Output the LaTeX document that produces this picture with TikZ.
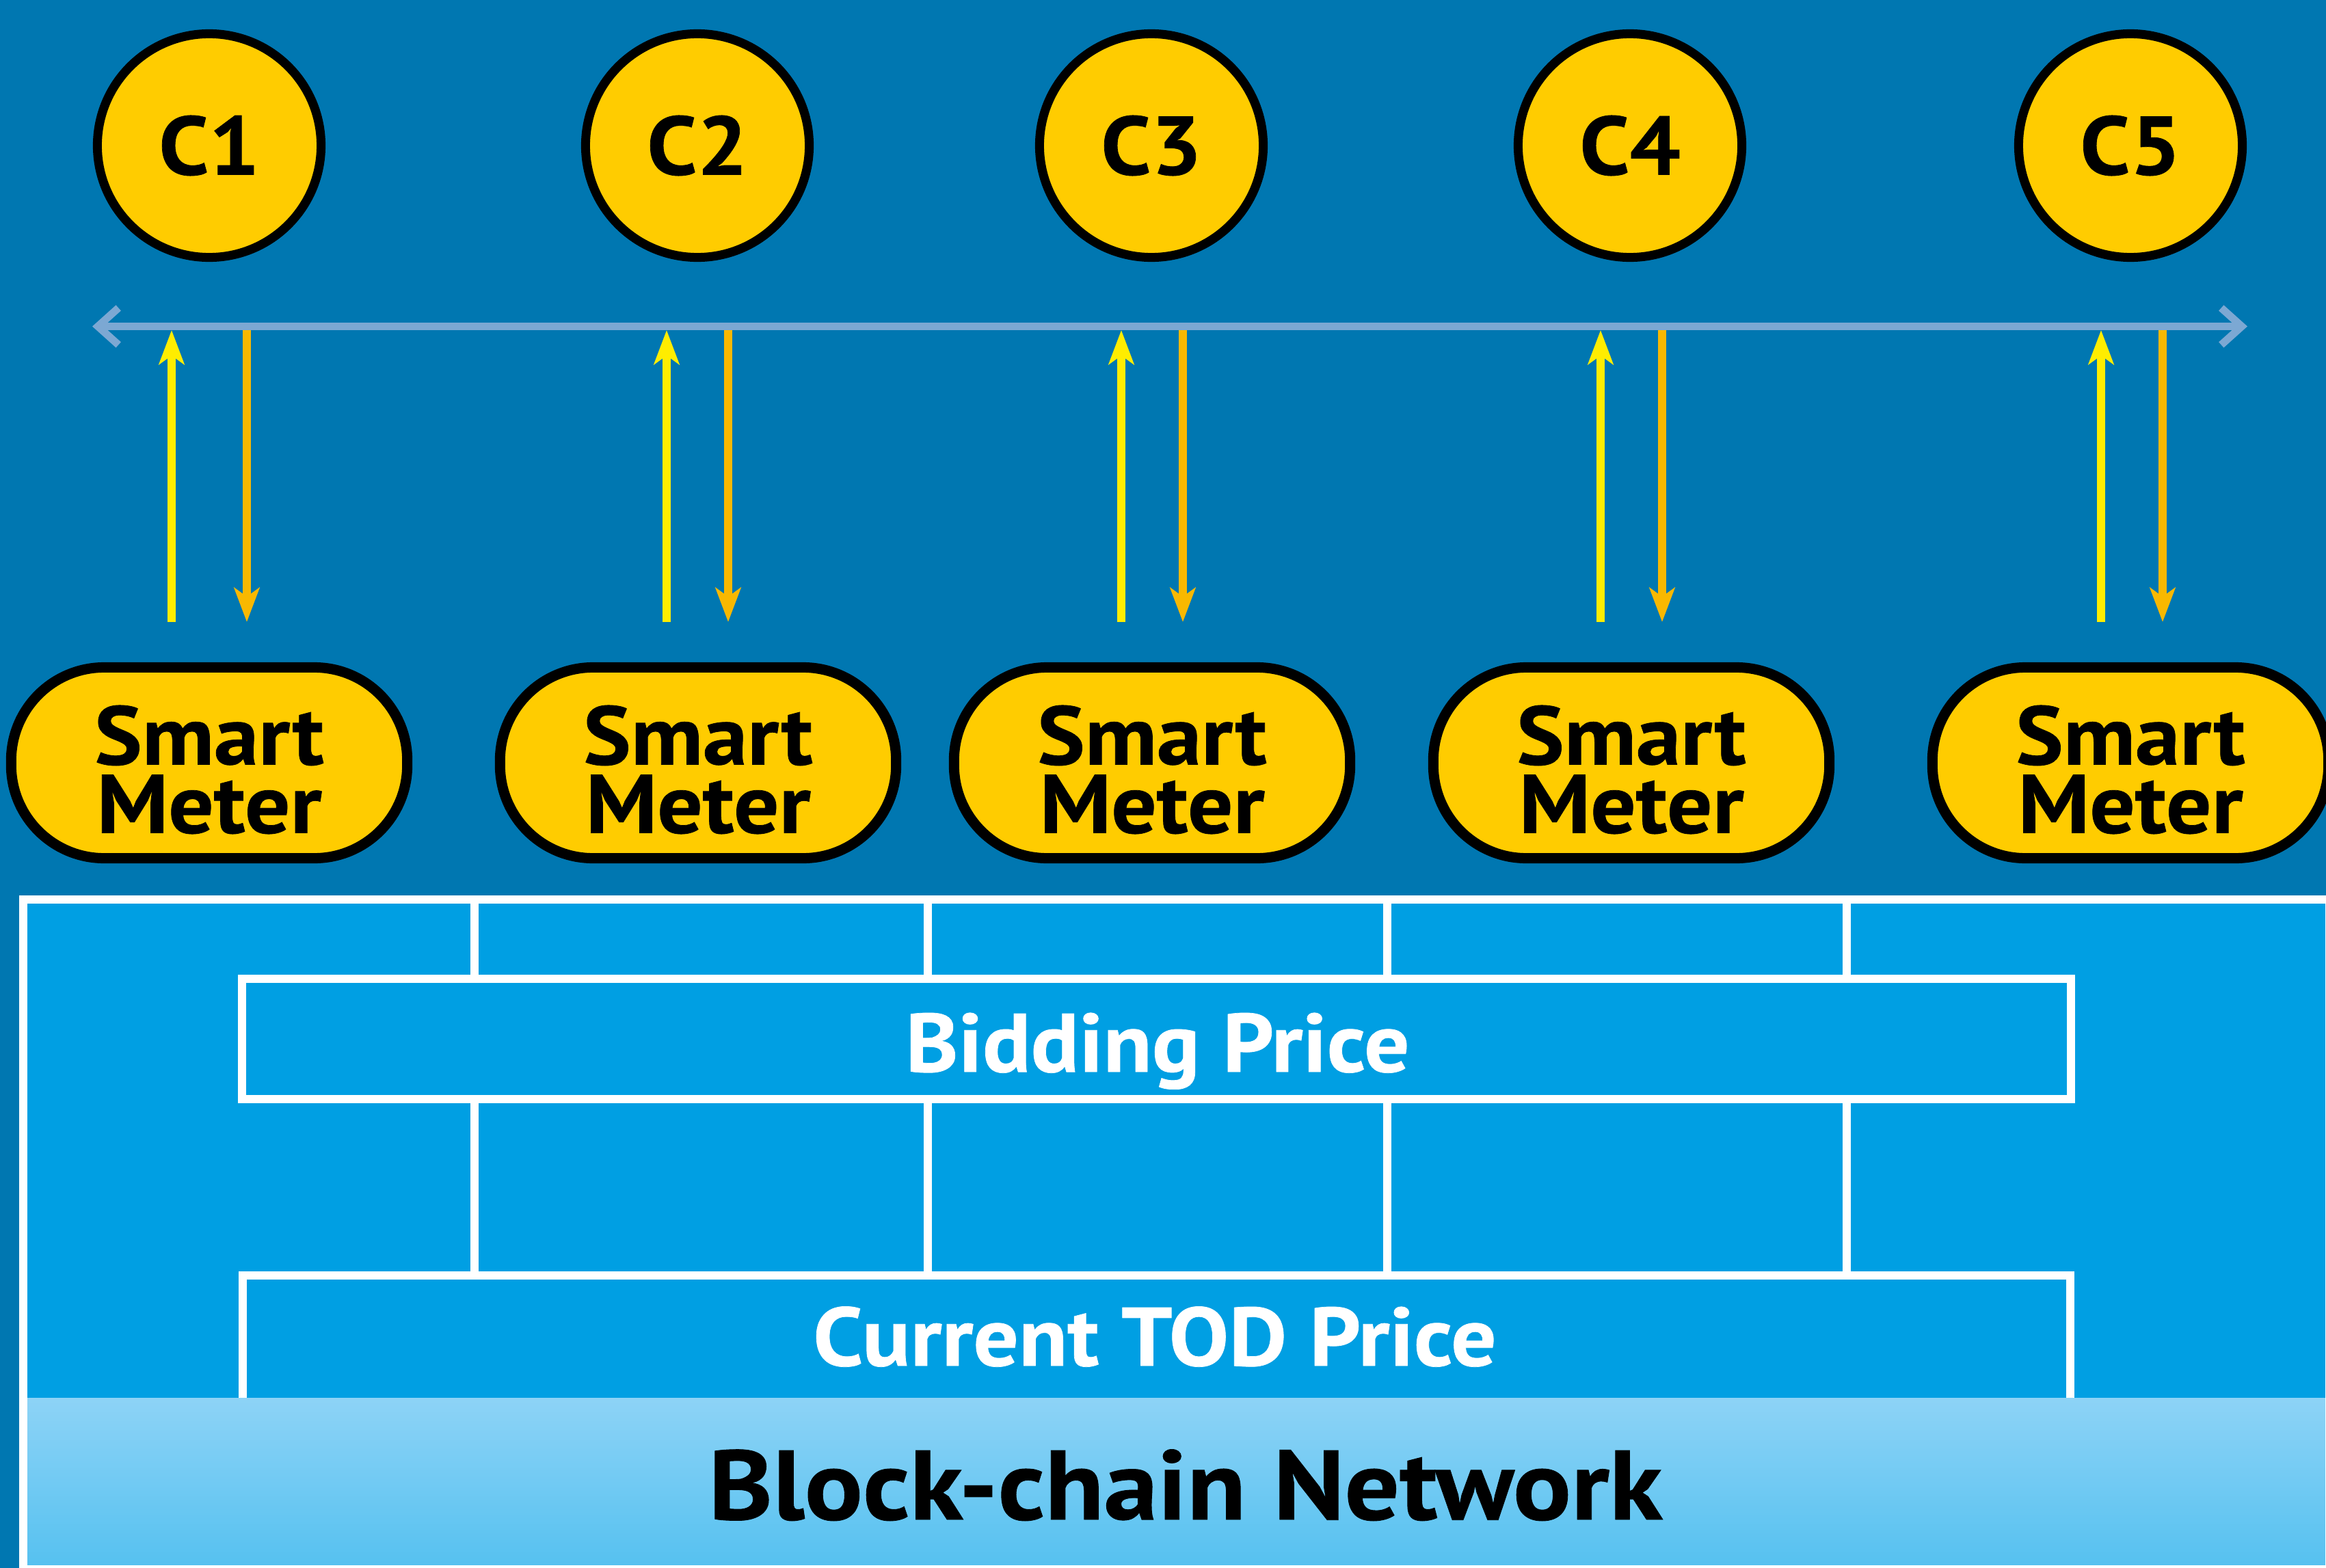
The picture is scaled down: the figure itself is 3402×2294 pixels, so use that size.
\documentclass[tikz,border=0pt]{standalone}
\usepackage{fontspec}
\setmainfont{PT Sans}[BoldFeatures={FakeStretch=1.08,FakeBold=0.6}]
\newfontfamily\bcfont{PT Sans}[BoldFeatures={FakeStretch=1.1,FakeBold=0.6}]
\usetikzlibrary{arrows.meta}
\definecolor{bg}{HTML}{0077B1}
\definecolor{panel}{HTML}{009FE3}
\definecolor{grtop}{HTML}{8DD3F6}
\definecolor{grbot}{HTML}{56C1F0}
\definecolor{cyel}{HTML}{FFCC00}
\definecolor{upyel}{HTML}{FFED00}
\definecolor{downor}{HTML}{F9B800}
\definecolor{busc}{HTML}{7CA8D3}
\tikzset{
  cnode/.style={circle, fill=cyel, draw=black, line width=0.13cm, minimum size=3.27cm, inner sep=0pt,
    font=\bfseries\fontsize{34.5}{40}\selectfont},
  smnode/.style={rectangle, rounded corners=1.36cm, fill=cyel, draw=black, line width=0.15cm,
    minimum width=5.79cm, minimum height=2.79cm, inner sep=0pt},
  smtext/.style={inner sep=0pt, align=center, font=\bfseries\fontsize{34.5}{28.45}\selectfont},
  uparrow/.style={draw=upyel, line width=0.125cm, -{Stealth[length=0.5cm,width=0.37cm,inset=0.13cm]}},
  downarrow/.style={draw=downor, line width=0.125cm, -{Stealth[length=0.5cm,width=0.37cm,inset=0.13cm]}},
  bus/.style={draw=busc, line width=0.11cm, {Straight Barb[length=0.3cm,width=0.54cm]}-{Straight Barb[length=0.3cm,width=0.54cm]}},
  wline/.style={draw=white, line width=0.12cm},
  wbox/.style={draw=white, line width=0.12cm, rectangle, minimum width=26.73cm, minimum height=1.755cm, inner sep=0pt},
  wtext/.style={text=white, font=\bfseries\fontsize{34.5}{40}\selectfont, inner sep=0pt, anchor=base},
}
\begin{document}
\begin{tikzpicture}[x=0.01cm,y=-0.01cm]
\useasboundingbox (0,0) rectangle (3402,2294);
\fill[bg] (0,0) rectangle (3402,2294);

% bottom panel
\fill[panel] (34,1316) rectangle (3407,2296);
\draw[wline] (355,2100) -- (355,1866) -- (3028,1866) -- (3028,2100);
\foreach \x in {694,1357,2029,2701}{
  \draw[wline] (\x,1316) -- (\x,1432);
  \draw[wline] (\x,1607.5) -- (\x,1866);
}
\node[wbox] (bid) at (1691.5,1519.75) {};
\shade[top color=grtop, bottom color=grbot] (40,2045) rectangle (3402,2290);
\draw[wline] (34,1316) rectangle (3407,2296);

\node[wtext] (bidt) at (1693,1568) {Bidding Price};
\node[wtext] (todt) at (1689,1998) {Current TOD Price};
\node[text=black, font=\bcfont\bfseries\fontsize{41}{48}\selectfont, inner sep=0pt, anchor=base] (bcn) at (1734,2223) {Block-chain Network};

% bus
\coordinate (busL) at (135,477.5);
\coordinate (busR) at (3287,477.5);
\draw[bus] (busL) -- (busR);

% clients
\node[cnode] (c1) at (306,213) {C1};
\node[cnode] (c2) at (1020,213) {C2};
\node[cnode] (c3) at (1684,213) {C3};
\node[cnode] (c4) at (2384,213) {C4};
\node[cnode] (c5) at (3116,213) {C5};

% smart meters
\foreach \i/\x in {1/306, 2/1021, 3/1685, 4/2386, 5/3116}{
  \node[smnode] (s\i) at (\x,1116) {};
  \node[smtext] (s\i t) at (\x,1126) {Smart\\Meter};
}

% arrows
\foreach \i/\u/\d in {1/251/361, 2/975/1065, 3/1640/1730, 4/2341/2431, 5/3073/3163}{
  \coordinate (ua\i) at (\u,910);
  \coordinate (ub\i) at (\u,483);
  \coordinate (da\i) at (\d,483);
  \coordinate (db\i) at (\d,910);
  \draw[uparrow] (ua\i) -- (ub\i);
  \draw[downarrow] (da\i) -- (db\i);
}
\end{tikzpicture}
\end{document}
